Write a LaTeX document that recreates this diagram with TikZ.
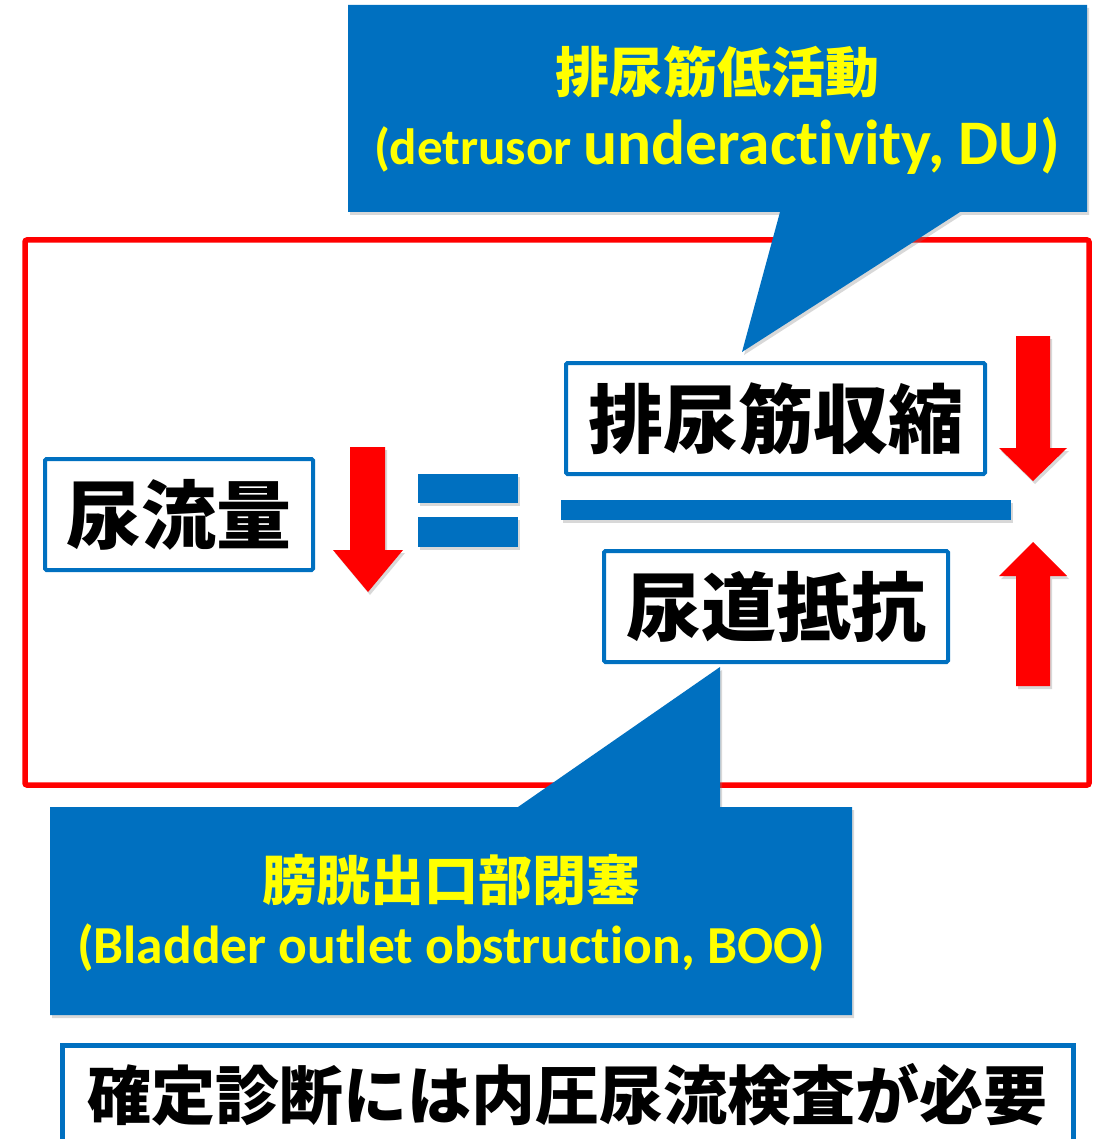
\documentclass[tikz,border=0pt]{standalone}
\usepackage{fontspec}
\setmainfont{Carlito}[Ligatures=NoCommon]
\newfontfamily\jp{Noto Sans CJK JP}
\usetikzlibrary{shadows}
\definecolor{mblue}{HTML}{0070C0}
\definecolor{mred}{HTML}{FF0000}
\definecolor{myellow}{HTML}{FFFF00}
\begin{document}
\begin{tikzpicture}[x=1pt,y=-1pt,
  shad/.style={drop shadow={opacity=0.3,shadow xshift=2pt,shadow yshift=-3pt}},
  callout/.style={fill=mblue,shad},
  termbox/.style={draw=mblue,line width=4pt,fill=white,rounded corners=1.5pt,inner sep=0pt,
    font=\jp\bfseries\fontsize{75}{80}\selectfont},
  jpyellow/.style={text=myellow,inner sep=0pt,font=\jp\bfseries\fontsize{54}{60}\selectfont},
  enyellow/.style={text=myellow,inner sep=0pt,anchor=base},
  redarrow/.style={fill=mred,shad},
  bluebar/.style={fill=mblue,shad}
]
\useasboundingbox (0,0) rectangle (1099,1139);
\clip (0,0) rectangle (1099,1139);
\fill[white] (0,0) rectangle (1099,1139);

% red frame
\draw[mred,line width=5.5pt,rounded corners=2pt] (25,240) rectangle (1089,785);

% top callout
\fill[callout] (348,5) -- (1087,5) -- (1087,212) -- (960,212) -- (742,352) -- (780,212) -- (348,212) -- cycle;
\node[jpyellow] (dujp) at (717,72) {排尿筋低活動};
\node[enyellow] (duen) at (717,165) {\bfseries\fontsize{51}{56}\selectfont(detrusor \fontsize{63.5}{68}\selectfont underactivity, DU)};

% bottom callout
\fill[callout] (50,807) -- (518,807) -- (720,667) -- (720,807) -- (852,807) -- (852,1015) -- (50,1015) -- cycle;
\node[jpyellow] (boojp) at (451,880) {膀胱出口部閉塞};
\node[enyellow] (booen) at (451,963) {\bfseries\fontsize{53.5}{58}\selectfont(Bladder outlet obstruction, BOO)};

% term boxes
\node[termbox,minimum width=268pt,minimum height=111pt] (flow) at (179,514.5) {尿流量};
\node[termbox,minimum width=419pt,minimum height=111pt] (contr) at (775.5,418.5) {排尿筋収縮};
\node[termbox,minimum width=344pt,minimum height=111pt] (resist) at (776,606.5) {尿道抵抗};

% equals sign and fraction bar
\fill[bluebar] (418,474) rectangle (518,503);
\fill[bluebar] (418,517) rectangle (518,547);
\fill[bluebar] (561,500) rectangle (1011,520);

% red block arrows
\fill[redarrow] (350,447) -- (385,447) -- (385,550) -- (403,550) -- (368,592) -- (333,550) -- (350,550) -- cycle;
\fill[redarrow] (1016,336) -- (1050,336) -- (1050,448) -- (1067,448) -- (1033,481) -- (999,448) -- (1016,448) -- cycle;
\fill[redarrow] (1033,542) -- (1067,576) -- (1050,576) -- (1050,686) -- (1016,686) -- (1016,576) -- (999,576) -- cycle;

% bottom note
\draw[mblue,line width=5pt,fill=white] (62,1045) rectangle (1073,1170);
\node[inner sep=0pt,font=\jp\bfseries\fontsize{64}{70}\selectfont] (note) at (567,1095) {確定診断には内圧尿流検査が必要};
\end{tikzpicture}
\end{document}
